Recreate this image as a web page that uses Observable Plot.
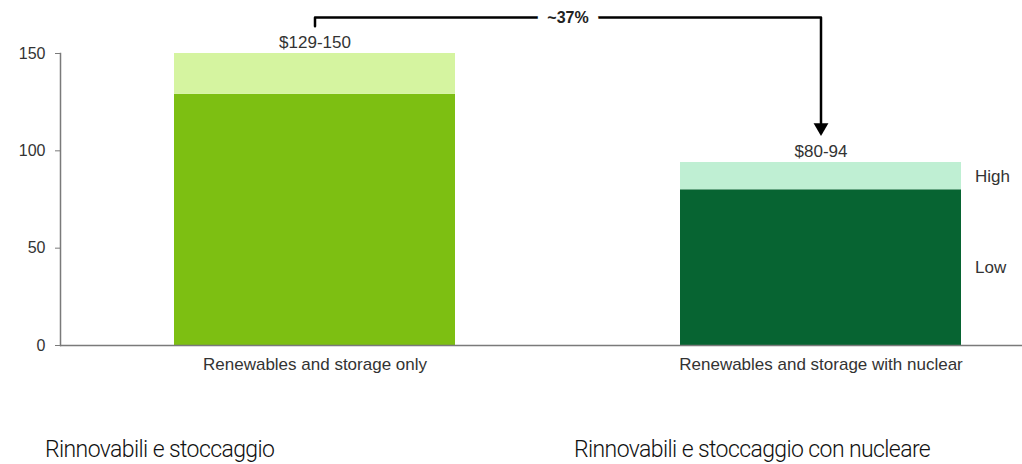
<!DOCTYPE html>
<html><head><meta charset="utf-8">
<script src="https://cdn.jsdelivr.net/npm/d3@7"></script>
<script src="https://cdn.jsdelivr.net/npm/@observablehq/plot@0.6"></script>
<style>
body{margin:0;background:#fff;width:1022px;height:464px;position:relative;overflow:hidden}
#chart{position:absolute;left:0;top:0}
.it{position:absolute;top:436px;font-family:Roboto,"Liberation Sans",sans-serif;font-weight:300;font-size:23px;line-height:27px;letter-spacing:-0.6px;color:#111;white-space:nowrap}
</style></head>
<body>
<div id="chart"></div>
<div class="it" style="left:45px">Rinnovabili e stoccaggio</div>
<div class="it" style="left:574px">Rinnovabili e stoccaggio con nucleare</div>
<script>
const categories = ["Renewables and storage only", "Renewables and storage with nuclear"];
const lowValues = [129, 80];
const highValues = [150, 94];
const rangeLabels = ["$129-150", "$80-94"];
const lowColors = ["#7dbf12", "#076432"];
const highColors = ["#d5f4a0", "#bfefd3"];
const yTicks = [0, 50, 100, 150];
const changeLabel = "~37%";
const bracketX = [categories[0], categories[0], categories[1], categories[1]];
const bracketY = [164, 168.5, 168.5, 114];
const segmentNames = ["High", "Low"];
const segmentMid = [(lowValues[1] + highValues[1]) / 2, lowValues[1] / 2];

const idx = categories.map((_, i) => i);
const font = "Liberation Sans, Arial, sans-serif";

const plot = Plot.plot({
  width: 1022,
  height: 400,
  marginTop: 53,
  marginBottom: 55,
  marginLeft: 60,
  marginRight: 0,
  style: {fontFamily: font, fontSize: "17px", color: "#333", background: "#fff"},
  x: {domain: categories, range: [174, 961], paddingInner: 0.445, paddingOuter: 0, label: null},
  y: {domain: [0, 150], label: null},
  marks: [
    Plot.barY(idx, {x: i => categories[i], y1: 0, y2: i => lowValues[i], fill: i => lowColors[i]}),
    Plot.barY(idx, {x: i => categories[i], y1: i => lowValues[i], y2: i => highValues[i], fill: i => highColors[i]}),
    Plot.frame({anchor: "left", stroke: "#7a7a7a", strokeWidth: 1.5}),
    Plot.ruleY([0], {stroke: "#7a7a7a", strokeWidth: 1.5}),
    Plot.axisY({ticks: yTicks, tickSize: 5, tickPadding: 10, stroke: "#7a7a7a", fill: "#333", fontSize: 16, label: null}),
    Plot.axisX({tickSize: 0, tickPadding: 12, fill: "#333", fontSize: 17, label: null}),
    Plot.text(idx, {x: i => categories[i], y: i => highValues[i], text: i => rangeLabels[i], dy: -11, fill: "#333", fontSize: 17}),
    Plot.line(idx.concat([2, 3]), {x: i => bracketX[i], y: i => bracketY[i], stroke: "#000", strokeWidth: 2.5, strokeLinejoin: "round"}),
    Plot.text([changeLabel], {x: () => categories[0], y: bracketY[1], text: d => d, dx: 253, fontWeight: "bold", fontSize: 16, fill: "#222", stroke: "#fff", strokeWidth: 20}),
    Plot.dot([0], {x: () => categories[1], y: 112, symbol: "triangle", rotate: 180, r: 5.5, fill: "#000", stroke: "none"}),
    Plot.text([0, 1], {x: () => categories[1], y: i => segmentMid[i], text: i => segmentNames[i], dx: 154, textAnchor: "start", fill: "#333", fontSize: 17})
  ]
});
document.getElementById("chart").appendChild(plot);
</script>
</body></html>
